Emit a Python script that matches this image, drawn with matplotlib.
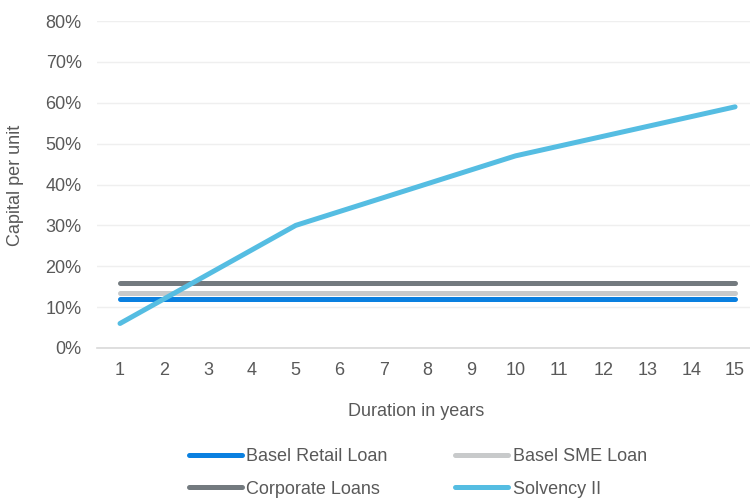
from matplotlib import pyplot as plt
from matplotlib.ticker import PercentFormatter

years = list(range(1, 16))
basel_retail = [0.12] * 15
basel_sme = [0.135] * 15
corporate = [0.16] * 15
solvency = [0.06, 0.12, 0.18, 0.24, 0.30, 0.334, 0.368, 0.402, 0.436, 0.47,
            0.494, 0.518, 0.542, 0.566, 0.59]

series = [
    ("Basel Retail Loan", basel_retail, "#0A80E0"),
    ("Basel SME Loan", basel_sme, "#C8CACB"),
    ("Corporate Loans", corporate, "#737A7F"),
    ("Solvency II", solvency, "#55BDE2"),
]

plt.rcParams['font.family'] = ['Liberation Sans', 'DejaVu Sans']
text_col = "#595959"
fs = 13

fig = plt.figure(figsize=(7.5, 4.99), dpi=100)
ax = fig.add_axes([97 / 750, 1 - 348 / 499, 1 - 97 / 750, (348 - 21) / 499])

# draw order: corporate at the back, solvency on top
handles = {}
for i in [2, 1, 0, 3]:
    name, vals, col = series[i]
    h, = ax.plot(years, vals, color=col, lw=3.6, solid_capstyle='round', label=name)
    handles[i] = h

ax.set_xlim(0.476, 15.34)
ax.set_ylim(0, 0.8)
ax.set_xticks(years)
ax.set_yticks([i / 10 for i in range(9)])
ax.yaxis.set_major_formatter(PercentFormatter(1.0, decimals=0))
ax.grid(axis='y', color='#EFEFEF', lw=1)
ax.set_axisbelow(True)
for s in ['top', 'right', 'left']:
    ax.spines[s].set_visible(False)
ax.spines['bottom'].set_color('#D9D9D9')
ax.spines['bottom'].set_linewidth(1.2)
ax.tick_params(length=0, labelsize=fs, colors=text_col)
ax.tick_params(axis='x', pad=10)
ax.tick_params(axis='y', pad=11)

fig.text(416 / 750, 1 - 412 / 499, "Duration in years", ha='center', va='center',
         fontsize=fs, color=text_col)
fig.text(16 / 750, 1 - 185 / 499, "Capital per unit", ha='center', va='center',
         rotation=90, fontsize=fs, color=text_col)

# legend fills column-wise: retail, corporate | sme, solvency
leg_order = [0, 2, 1, 3]
fig.legend([handles[i] for i in leg_order], [series[i][0] for i in leg_order],
           ncol=2, loc='center', bbox_to_anchor=(418 / 750, 1 - 473 / 499),
           frameon=False, fontsize=fs, handlelength=2.9, handletextpad=0.27,
           columnspacing=3.75, labelspacing=0.85, labelcolor=text_col)

fig.savefig("out.png", dpi=100)
